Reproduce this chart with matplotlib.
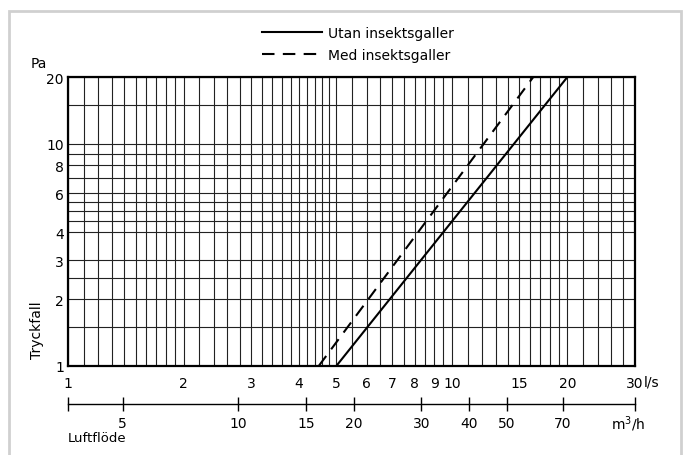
import matplotlib
matplotlib.use('Agg')
import matplotlib.pyplot as plt
from matplotlib.patches import Rectangle
from matplotlib.ticker import NullFormatter, NullLocator

plt.rcParams['font.family'] = ['DejaVu Sans', 'Noto Sans']

# pressure drop curves, flow in l/s against pressure drop in Pa
flow_without = [5.0, 20.0]
pa_without = [1.0, 20.0]
flow_with = [4.5, 16.3]
pa_with = [1.0, 20.0]

x_labels = [1, 2, 3, 4, 5, 6, 7, 8, 9, 10, 15, 20, 30]
y_labels = [1, 2, 3, 4, 6, 8, 10, 20]
x_grid = [1.1, 1.2, 1.3, 1.4, 1.5, 1.6, 1.7, 1.8, 1.9,
          2.2, 2.4, 2.6, 2.8,
          3.2, 3.4, 3.6, 3.8, 4.2, 4.4, 4.6, 4.8,
          5.5, 6.5, 7.5, 8.5, 9.5,
          11, 12, 13, 14, 16, 17, 18, 19,
          22, 24, 26, 28]
y_grid = [1.5, 2.5, 4.5, 5, 5.5, 7, 9, 15]
m3h_ticks = [5, 10, 15, 20, 30, 40, 50, 70]
m3h_range = [3.6, 108]

W, H = 684, 456
fig = plt.figure(figsize=(W / 100, H / 100), dpi=100)

# light grey frame round the whole chart
fig.patches.append(Rectangle((9 / W, -0.1), 672 / W, (H - 12) / H + 0.1,
                             transform=fig.transFigure, fill=False,
                             edgecolor='#d0d0d0', linewidth=2))

ax = fig.add_axes([68 / W, 1 - 367 / H, 567 / W, 289 / H])
ax.set_xscale('log')
ax.set_yscale('log')
ax.set_xlim(1, 30)
ax.set_ylim(1, 20)

ax.set_xticks(x_labels)
ax.set_xticklabels([str(v) for v in x_labels])
ax.set_xticks(x_grid, minor=True)
ax.xaxis.set_minor_formatter(NullFormatter())
ax.set_yticks(y_labels)
ax.set_yticklabels([str(v) for v in y_labels])
ax.set_yticks(y_grid, minor=True)
ax.yaxis.set_minor_formatter(NullFormatter())
ax.grid(which='both', color='#222222', linewidth=0.8)
ax.tick_params(which='both', length=0, labelsize=10)
ax.tick_params(axis='x', pad=7)
ax.tick_params(axis='y', pad=3)
for sp in ax.spines.values():
    sp.set_linewidth(1.6)

ax.plot(flow_without, pa_without, color='black', linewidth=1.5,
        label='Utan insektsgaller')
ax.plot(flow_with, pa_with, color='black', linewidth=1.5,
        dashes=(6, 4), label='Med insektsgaller')

ax.legend(loc='center', bbox_to_anchor=(358 / W, 1 - 45 / H),
          bbox_transform=fig.transFigure, frameon=False, fontsize=10,
          handlelength=4.3, handletextpad=0.45, labelspacing=0.6,
          borderpad=0)

ax.annotate('l/s', xy=(1, 0), xycoords='axes fraction', xytext=(6, -11),
            textcoords='offset points', ha='left', va='center', fontsize=10)
fig.text(31 / W, 1 - 64 / H, 'Pa', ha='left', va='center', fontsize=10)
fig.text(37 / W, 1 - 330 / H, 'Tryckfall', ha='center', va='center',
         rotation=90, fontsize=10)

# second flow scale in m3/h
ax2 = fig.add_axes([68 / W, 1 - 405 / H, 567 / W, 0.0001])
ax2.set_xscale('log')
ax2.set_xlim(m3h_range)
ax2.xaxis.set_minor_locator(NullLocator())
ax2.set_xticks(m3h_range[:1] + m3h_ticks + m3h_range[1:])
ax2.set_xticklabels([''] + [str(v) for v in m3h_ticks] + [''])
ax2.set_yticks([])
for side in ['left', 'right', 'top']:
    ax2.spines[side].set_visible(False)
ax2.spines['bottom'].set_linewidth(1.0)
ax2.tick_params(axis='x', direction='inout', length=10, width=1.0,
                pad=4, labelsize=10)
ax2.annotate('m$^3$/h', xy=(1, 0), xycoords='axes fraction', xytext=(-5, -14),
             textcoords='offset points', ha='center', va='center', fontsize=10)
fig.text(68 / W, 1 - 439 / H, 'Luftflöde', ha='left', va='center', fontsize=9.5)

fig.savefig('out.png', dpi=100)
